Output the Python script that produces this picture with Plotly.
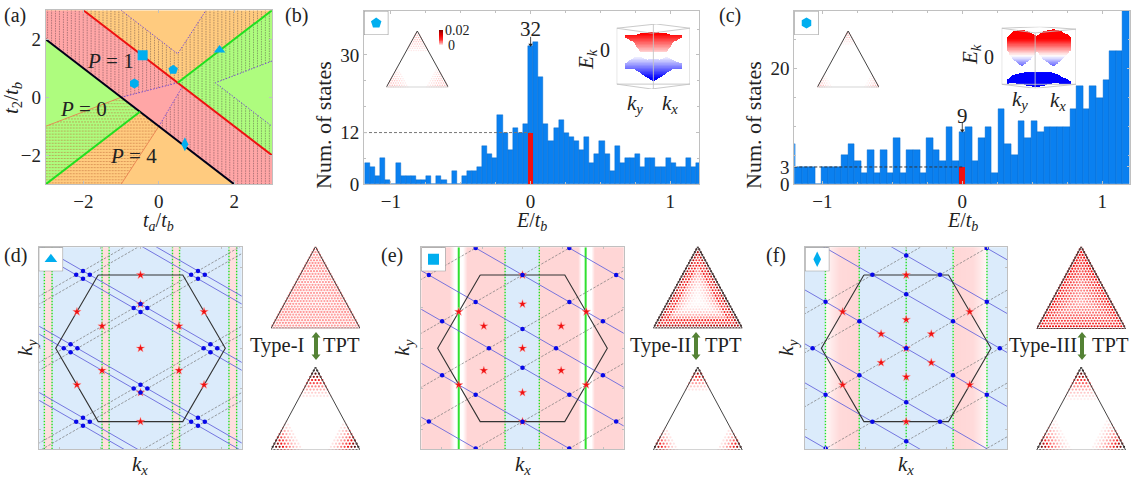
import numpy as np
import plotly.graph_objects as go

W, H = 1136, 480
SERIF = "Liberation Serif"

# ---------- data ----------
# panel (a)
REGION_PINK = ([-3, -2, 3, 3, 2, -3], [3, 3, -2, -3, -3, 2])
REGION_GREEN_RIGHT = ([0.5, 3, 3], [0.5, 3, -2])
REGION_GREEN_LEFT = ([-3, -0.5, -3], [2, -0.5, -3])
BLACK_LINE = ([-3, 2], [2, -3])
RED_LINE = ([-2, 3], [3, -2])
GREEN_LINE_A = ([-3, -0.5], [-3, -0.5])
GREEN_LINE_B = ([0.5, 3], [0.5, 3])
DOT_PURPLE = [([-1, 0.5, 1.25], [3, 1.5, 3]), ([3, 1.5, 3], [1.25, 0.5, -1]),
              ([-1, 0.5], [0, 0.5]), ([0, 0.63], [-1, 0.38])]
THIN_ORANGE = [([-3, -1], [-1, 0]), ([0, -1], [-1, -3])]
HATCH_V = [(-3, 2), (-3, 3), (-1, 3), (0.5, 1.5), (1.25, 3), (3, 3), (3, 1.25), (1.5, 0.5),
           (3, -1), (3, -3), (2, -3), (0, -1), (0.63, 0.38), (0.5, 0.5), (-1, 0)]
HATCH_H = [(-3, -1), (-1, 0), (0, -1), (-1, -3), (-3, -3)]
POINTS_A = {"square": (-0.43, 1.45), "pentagon": (0.38, 0.95), "hexagon": (-0.65, 0.48),
            "triangle-up": (1.61, 1.63), "diamond-tall": (0.69, -1.62)}

# panel (b)
COUNTS_B = [5, 4, 2, 6, 1, 0, 5, 2, 2, 2, 1, 1, 2, 0, 2, 1, 0, 3, 0, 2, 3, 3, 4, 9, 7, 6, 16, 12, 8, 13, 12, 14,
            32, 33, 25, 14, 10, 13, 15, 12, 11, 10, 8, 11, 5, 7, 10, 7, 3, 9, 5, 6, 6, 7, 4, 6, 6, 4, 4, 6, 5, 4, 4, 6, 4, 5]
INDEX_ZERO_B = 32
BIN_B = 0.0365
POINTER_B = [34.2, 32.4]
# panel (c)
COUNTS_C = [7, 3, 3, 3, 0, 3, 3, 3, 5, 7, 4, 2, 6, 2, 6, 2, 8, 2, 6, 6, 2, 8, 6, 4, 10, 4,
            9, 10, 4, 8, 10, 2, 13, 7, 5, 11, 8, 11, 9, 10, 10, 10, 10, 13, 17, 13, 17, 15, 18, 23, 23, 30]
INDEX_ZERO_C = 26
BIN_C = 0.0467
POINTER_C = [10.8, 9.3]

# band insets
KB = [-.77, -.55, -.36, -.18, 0, .18, .36, .55, .77]
B_UP_TOP = [.68, .66, .71, .74, .76, .74, .71, .66, .68]
B_UP_BOT = [.59, .46, .15, .15, .15, .15, .15, .46, .59]
B_LO_TOP = [-.21, -.03, 0, -.09, -.06, -.09, 0, -.11, -.21]
B_LO_BOT = [-.36, -.36, -.5, -.64, -.75, -.64, -.5, -.36, -.36]
KC = [-.87, -.69, -.46, -.24, -.06, .12, .39, .61, .86]
C_UP_TOP = [.65, .84, .91, .81, .70, .84, .92, .84, .68]
C_UP_BOT = [.24, -.08, -.30, -.08, .19, -.08, -.30, -.08, .24]
C_LO_TOP = [-.73, -.57, -.50, -.46, -.46, -.46, -.49, -.62, -.78]
C_LO_BOT = [-.86, -.84, -.88, -.93, -.97, -.92, -.84, -.86, -.86]

# Brillouin-zone panels
HEX_X = [-2.09, 2.09, 4.19, 2.09, -2.09, -4.19, -2.09]
HEX_Y = [3.63, 3.63, 0, -3.63, -3.63, 0, 3.63]
D_INTERCEPTS = [-5.47, -5.08, -2.19, -1.8, 1.8, 2.19, 5.08, 5.47]
E_INTERCEPTS = [-6.3, -3.63, -0.957, 0.957, 3.63, 6.3]
F_INTERCEPTS = [-7.26, -4.6, -2.67, 0, 2.67, 4.6, 7.26]
D_STAR_X = [0, 0, 0, -3.14, 3.14, -3.14, 3.14, -1.9, 1.9, -1.9, 1.9, 0, 0]
D_STAR_Y = [3.63, 0, -3.63, 1.81, 1.81, -1.81, -1.81, 1.1, 1.1, -1.1, -1.1, 2.19, -2.19]
E_STAR_X = [0, -3.15, 3.15, -3.15, 3.15, 0, 0, 0, 0, -1.91, 1.91, -1.91, 1.91]
E_STAR_Y = [3.63, 1.81, 1.81, -1.81, -1.81, -3.63, 2.19, 0, -2.19, 1.1, 1.1, -1.1, -1.1]
F_STAR_X = [0, 0, 0, 0, 0, -3.14, 3.14, -3.14, 3.14, -1.24, 1.24, -1.24, 1.24]
F_STAR_Y = [3.63, 1.42, 0, -1.42, -3.63, 1.81, 1.81, -1.81, -1.81, 0.71, 0.71, -0.71, -0.71]
D_GREEN = [-4.75, -4.37, -1.9, -1.55, 1.58, 1.93, 4.37, 4.75]
E_GREEN_DOT = [-0.86, 0.83]
E_GREEN_SOLID = [-3.15, 3.12]
F_GREEN = [-3.99, -2.32, 0, 2.32, 3.99]
# shading stops: 0 blue, .5 white, 1 pink
D_SHADE = ([-5, -4.76, -4.75, -4.37, -4.36, -1.91, -1.9, -1.55, -1.54, 1.57, 1.58, 1.93, 1.94, 4.36, 4.37, 4.75, 4.76, 5],
           [0, 0, .9, .9, 0, 0, .9, .9, 0, 0, .9, .9, 0, 0, .9, .9, 0, 0])
E_SHADE = ([-5, -3.6, -3.35, -2.94, -2.72, -0.87, -0.86, 0.83, 0.84, 2.76, 2.92, 3.42, 3.58, 5],
           [1, 1, .5, .5, 1, 1, 0, 0, 1, 1, .5, .5, 1, 1])
F_SHADE = ([-5, -4, -3.98, -3.3, -2.33, -2.32, 2.32, 2.33, 3.3, 3.98, 4, 5],
           [0, 0, .6, .95, 1, 0, 0, 1, .95, .6, 0, 0])

# triangle intensities: by depth from the edge (RING) or by lattice distance from a corner (CORNER)
RING_D = [.42, .36, .38, .36, .36, .34, .36, .34, .34, .32, .32]
RING_E = [.95, .8, .6, .65, .4, .3, .2, .12, .07, .04, .02]
RING_F = [.85, .7, .6, .58, .52, .5, .45, .42, .4, .36, .32]
CORNER_B = [.25, .25, .28, .28, .25, .22, .2, .16, .12, .08]
CORNER_C = [.4, .4, .3, .25, .15, .1, .05]
CORNER_D = [1, .98, .92, .85, .7, .55, .42, .3, .18, .1]
CORNER_E = [1, .95, .82, .65, .5, .35, .2, .1]
CORNER_F = [1, .98, .9, .8, .65, .5, .4, .3, .2, .12, .06]
ARROW_SHAPE = ([0, -.9, -.4, -.4, -.9, 0, .9, .4, .4, .9], [1, .6, .6, -.6, -.6, -1, -.6, -.6, .6, .6])

BG_BLUE, BG_PINK = "#DBEBFB", "#FFD6D6"
MARK = "#00AEEF"
INT_SCALE = [[0, "#ffffff"], [.35, "#ffa0a0"], [.7, "#f01010"], [.88, "#801010"], [1, "#181010"]]
BAND_SCALE = [[0, "#0000ff"], [.5, "#ffffff"], [1, "#ff0000"]]
SHADE_SCALE = [[0, BG_BLUE], [.5, "#ffffff"], [1, BG_PINK]]

fig = go.Figure()
axes = {}
n_ax = 0
AX_GRAY = "#c0c0c0"


def new_axes(x0, y0, x1, y1, xr, yr, xkw=None, ykw=None):
    global n_ax
    n_ax += 1
    s = "" if n_ax == 1 else str(n_ax)
    base = dict(visible=False, fixedrange=True)
    xa = dict(base, domain=[x0 / W, x1 / W], range=xr, anchor="y" + s)
    ya = dict(base, domain=[1 - y1 / H, 1 - y0 / H], range=yr, anchor="x" + s)
    if xkw:
        xa.update(xkw)
    if ykw:
        ya.update(ykw)
    axes["xaxis" + s] = xa
    axes["yaxis" + s] = ya
    return "x" + s, "y" + s


def boxed(tickvals=None, minor=None, labels=True, size=19):
    d = dict(visible=True, showline=True, linecolor=AX_GRAY, linewidth=1, mirror="ticks", showgrid=False, zeroline=False,
             ticks="inside", ticklen=3, tickcolor=AX_GRAY, tickwidth=1, showticklabels=labels,
             tickfont=dict(family=SERIF, size=size, color="#222"))
    if tickvals is not None:
        d.update(tickmode="array", tickvals=tickvals)
    if minor is not None:
        d["minor"] = dict(ticks="inside", ticklen=2, tickcolor=AX_GRAY, dtick=minor, showgrid=False)
    return d


def line(ax, x, y, color, width=1, dash="solid", **kw):
    fig.add_trace(go.Scatter(x=x, y=y, xaxis=ax[0], yaxis=ax[1], mode="lines", hoverinfo="skip",
                             line=dict(color=color, width=width, dash=dash), **kw))


def poly(ax, xy, color):
    fig.add_trace(go.Scatter(x=xy[0], y=xy[1], xaxis=ax[0], yaxis=ax[1], mode="lines", fill="toself",
                             fillcolor=color, line=dict(width=0), hoverinfo="skip"))


def marks(ax, x, y, symbol, size, color, **kw):
    fig.add_trace(go.Scatter(x=x, y=y, xaxis=ax[0], yaxis=ax[1], mode="markers", hoverinfo="skip",
                             marker=dict(symbol=symbol, size=size, color=color, **kw)))


annos = []


def text(px, py, s, size=20, angle=0, color="#222"):
    annos.append(dict(x=px / W, y=1 - py / H, xref="paper", yref="paper", text=s, showarrow=False, textangle=angle,
                      xanchor="center", yanchor="middle", font=dict(family=SERIF, size=size, color=color)))


def clip_polygon(polygon, positions, vertical=True):
    segs_a, segs_b = [], []
    pts = polygon + [polygon[0]]
    for p in positions:
        hits = []
        for (x0, y0), (x1, y1) in zip(pts[:-1], pts[1:]):
            a0, b0, a1, b1 = (x0, y0, x1, y1) if vertical else (y0, x0, y1, x1)
            if (a0 <= p < a1) or (a1 <= p < a0):
                hits.append(b0 + (p - a0) / (a1 - a0) * (b1 - b0))
        hits.sort()
        for lo, hi in zip(hits[::2], hits[1::2]):
            segs_a += [p, p, None]
            segs_b += [lo, hi, None]
    return (segs_a, segs_b) if vertical else (segs_b, segs_a)


# ---------- panel (a) ----------
A = new_axes(45.7, 10.3, 272, 184.3, [-3, 3], [-3, 3],
             boxed([-2, 0, 2]), boxed([-2, 0, 2]))
poly(A, ([-3, 3, 3, -3], [-3, -3, 3, 3]), "#FFCB7F")
poly(A, REGION_GREEN_RIGHT, "#AEFC7E")
poly(A, REGION_GREEN_LEFT, "#AEFC7E")
poly(A, REGION_PINK, "#FFA6A6")
hv = clip_polygon(HATCH_V, list(np.arange(-2.95, 3, 0.105)), True)
line(A, hv[0], hv[1], "rgba(70,50,60,.6)", 0.7, "1.5px,1px")
hh = clip_polygon(HATCH_H, list(np.arange(-2.95, 0, 0.105)), False)
line(A, hh[0], hh[1], "rgba(190,100,50,.7)", 0.7, "2px,1px")
for dx, dy in DOT_PURPLE:
    line(A, dx, dy, "#7A50D0", 1, "1.5px,1.5px")
for dx, dy in THIN_ORANGE:
    line(A, dx, dy, "#E88050", 0.9)
line(A, *BLACK_LINE, "#000018", 2)
line(A, *RED_LINE, "#EE1010", 2)
line(A, *GREEN_LINE_A, "#20E020", 2)
line(A, *GREEN_LINE_B, "#20E020", 2)
for sym, (px_, py_) in POINTS_A.items():
    marks(A, [px_], [py_], sym, 10, MARK)
text(110, 61, "<i>P</i> = 1", 21)
text(83, 109, "<i>P</i> = 0", 21)
text(133, 156, "<i>P</i> = 4", 21)
text(158, 221, "<i>t<sub>a</sub></i>/<i>t<sub>b</sub></i>", 20)
text(12, 98, "<i>t</i><sub>2</sub>/<i>t<sub>b</sub></i>", 21, -90)


# ---------- histograms ----------
def histogram(box, xr, yr, yticks, yminor, counts, i0, bin_w, redval, label, lx, ly, pointer, dash_col):
    ax = new_axes(box[0], box[1], box[2], box[3], xr, yr, boxed([-1, 0, 1], 0.25), boxed(yticks, yminor))
    xs = [(i - i0) * bin_w for i in range(len(counts))]
    fig.add_trace(go.Bar(x=xs, y=counts, width=bin_w, xaxis=ax[0], yaxis=ax[1], hoverinfo="skip",
                         marker=dict(color="#0A80F0", line=dict(color="#0868C8", width=0.4))))
    fig.add_trace(go.Bar(x=[0], y=[redval], width=bin_w, xaxis=ax[0], yaxis=ax[1], hoverinfo="skip",
                         marker=dict(color="#F01010", line=dict(width=0))))
    line(ax, [xr[0], 0], [redval, redval], dash_col, 1, "3px,2px")
    line(ax, [0, 0], pointer, "#222", 0.8)
    marks(ax, [0], [pointer[1]], "triangle-down", 4, "#222")
    text(lx, ly, label, 21)
    return ax


B = histogram((364, 11, 699.3, 184.3), [-1.193, 1.208], [0, 40.2], [0, 12, 30], 6, COUNTS_B, INDEX_ZERO_B, BIN_B, 12,
              "32", 530.7, 29, POINTER_B, "#777")
C = histogram((794.3, 11, 1130, 184.3), [-1.2, 1.198], [0, 30], [0, 3, 20], 5, COUNTS_C, INDEX_ZERO_C, BIN_C, 3,
              "9", 962.3, 116, POINTER_C, "#333")
text(323, 125, "Num. of states", 22, -90)
text(753, 125, "Num. of states", 22, -90)
text(531, 221, "<i>E</i>/<i>t<sub>b</sub></i>", 20)
text(962, 221, "<i>E</i>/<i>t<sub>b</sub></i>", 20)


# ---------- legend boxes ----------
def legend_box(x0, y0, symbol):
    ax = new_axes(x0, y0, x0 + 24.4, y0 + 24, [0, 1], [0, 1])
    poly(ax, ([0, 1, 1, 0], [0, 0, 1, 1]), "#ffffff")
    line(ax, [0, 1, 1, 0, 0], [0, 0, 1, 1, 0], "#999", 1.2)
    marks(ax, [0.5], [0.5], symbol, 11, MARK)


legend_box(364, 11, "pentagon")
legend_box(794.3, 11, "hexagon")


# ---------- band-structure insets ----------
def band_inset(box, kk, up_top, up_bot, k2, lo_top, lo_bot, zr, frame):
    ax = new_axes(box[0], box[1], box[2], box[3], [-1, 1], [-1, 1])
    for fx, fy in frame:
        line(ax, fx, fy, "#c4c4c4", 0.9)
    gx = np.linspace(-1, 1, 160)
    gy = np.linspace(-1, 1, 110)
    z = np.full((gy.size, gx.size), np.nan)
    for top_k, top, bot_k, bot in ((kk, up_top, kk, up_bot), (k2, lo_top, k2, lo_bot)):
        t = np.interp(gx, top_k, top, left=np.nan, right=np.nan)
        b = np.interp(gx, bot_k, bot, left=np.nan, right=np.nan)
        for j, g in enumerate(gy):
            m = (g <= t) & (g >= b)
            z[j, m] = g
    fig.add_trace(go.Heatmap(x=gx, y=gy, z=z, xaxis=ax[0], yaxis=ax[1], zmin=zr[0], zmax=zr[1], showscale=False,
                             colorscale=BAND_SCALE, hoverinfo="skip"))


FRAME_B = [([-1, 0.08, 1, 1, -1, -1], [.87, 1, .87, -.85, -.85, .87]), ([-1, -.05, 1], [.87, .72, .87]),
           ([-1, -.05, 1], [-.85, -1, -.85]), ([.0, .0], [1, -1])]
FRAME_C = [([-1, .03, 1, 1, -1, -1], [.95, 1, .92, -.87, -.87, .95]), ([-1, -.1, 1], [.95, .8, .92]),
           ([-1, -.1, 1], [-.87, -1, -.87]), ([-.1, -.1], [.8, -1])]
band_inset((616.7, 24, 690, 89), KB, B_UP_TOP, B_UP_BOT, KB, B_LO_TOP, B_LO_BOT, (-.65, .7), FRAME_B)
band_inset((1001.7, 26.7, 1076, 88.3), KC, C_UP_TOP, C_UP_BOT, KC, C_LO_TOP, C_LO_BOT, (-.5, .6), FRAME_C)
text(587, 60, "<i>E<sub>k</sub></i>", 21, -90)
text(605, 50, "0", 20)
text(635, 104, "<i>k<sub>y</sub></i>", 21)
text(670, 104, "<i>k<sub>x</sub></i>", 21)
text(971, 55, "<i>E<sub>k</sub></i>", 21, -90)
text(989, 57, "0", 20)
text(1020, 100, "<i>k<sub>y</sub></i>", 21)
text(1058, 101, "<i>k<sub>x</sub></i>", 21)

# colour key of panel (b)
K = new_axes(439, 30, 443.3, 45, [0, 1], [0, 0.02])
fig.add_trace(go.Heatmap(x=[0.5], y=list(np.linspace(0, 0.02, 30)), z=[[v] for v in np.linspace(0, 0.02, 30)],
                         xaxis=K[0], yaxis=K[1], showscale=False, hoverinfo="skip",
                         colorscale=[[0, "#ffffff"], [.35, "#ff3030"], [.65, "#ee0000"], [1, "#800000"]]))
text(457, 31, "0.02", 14)
text(451, 45.5, "0", 14)


# ---------- triangles ----------
def triangle(box, n, ring=None, corner=None, size=1.8):
    ax = new_axes(box[0], box[1], box[2], box[3], [-.5, .5], [0, 1])
    xs, ys, cs = [], [], []
    for r in range(n + 1):
        for j in range(r + 1):
            if ring is not None:
                d = min(j, r - j, n - r)
                v = ring[d] if d < len(ring) else ring[-1]
            else:
                d = min(r, n - r + j, n - j)
                v = corner[d] if d < len(corner) else 0
            if v > 0:
                xs.append((j - r / 2) / n)
                ys.append(1 - r / n)
                cs.append(v)
    fig.add_trace(go.Scatter(x=xs, y=ys, xaxis=ax[0], yaxis=ax[1], mode="markers", hoverinfo="skip",
                             marker=dict(symbol="circle", size=size, color=cs, cmin=0, cmax=1, colorscale=INT_SCALE,
                                         showscale=False, line=dict(width=0))))
    line(ax, [-.5, 0, .5], [0, 1, 0], "#444", 1)
    line(ax, [-.5, .5], [0, 0], "#aaa" if ring is None else "#333", 1.2 if ring is None else 1)


triangle((386.3, 31, 448.3, 87.3), 26, corner=CORNER_B, size=1.5)
triangle((817.3, 31, 879, 87.3), 26, corner=CORNER_C, size=1.5)
triangle((271, 246.7, 360, 328.3), 30, ring=RING_D, size=2.3)
triangle((271, 367.3, 360, 450), 26, corner=CORNER_D, size=2.2)
triangle((653.3, 246.7, 742.3, 328.3), 30, ring=RING_E, size=2.1)
triangle((653.3, 367.3, 742.3, 450), 26, corner=CORNER_E, size=2.2)
triangle((1036.7, 246.7, 1125.7, 329), 30, ring=RING_F, size=2.2)
triangle((1036.7, 367.3, 1125.7, 450), 26, corner=CORNER_F, size=2.2)


# ---------- Brillouin-zone panels ----------
def bz_panel(x0, shade, intercepts, sx, sy, greens_dot, greens_solid, drop=()):
    box_axes = boxed(list(np.arange(-4, 5, 2.0)), None, labels=False)
    box_axes["ticklen"] = 2
    ax = new_axes(x0, 247.3, x0 + 202.4, 449.3, [-5, 5], [-5, 5], dict(box_axes), dict(box_axes))
    gx = np.linspace(-5, 5, 405)
    z = np.interp(gx, shade[0], shade[1])
    fig.add_trace(go.Heatmap(x=gx, y=[-5, 5], z=[z, z], xaxis=ax[0], yaxis=ax[1], zmin=0, zmax=1, showscale=False,
                             colorscale=SHADE_SCALE, hoverinfo="skip"))
    for g in greens_dot:
        line(ax, [g, g], [-5, 5], "#20E020", 1.4, "1.5px,1.5px")
    for g in greens_solid:
        line(ax, [g, g], [-5, 5], "#30E030", 2)
    s3 = np.sqrt(3)
    for a in intercepts:
        line(ax, [-9, 9], [a - 9 / s3, a + 9 / s3], "#777", 0.7, "2.5px,1.5px")
    for b in intercepts:
        line(ax, [-9, 9], [b + 9 / s3, b - 9 / s3], "#6868DC", 0.9)
    line(ax, HEX_X, HEX_Y, "#333", 1.1)
    marks(ax, sx, sy, "star", 6.5, "#F01010", line=dict(color="#FFB0B0", width=0.4))
    dx, dy = [], []
    for a in intercepts:
        for b in intercepts:
            kx, ky = (b - a) * s3 / 2, (a + b) / 2
            if abs(kx) <= 5 and abs(ky) <= 5.02 and (round(a, 2), round(b, 2)) not in drop:
                dx.append(kx)
                dy.append(ky)
    marks(ax, dx, dy, "circle", 4.5, "#0808E8")
    return ax


bz_panel(39.3, D_SHADE, D_INTERCEPTS, D_STAR_X, D_STAR_Y, D_GREEN, [])
bz_panel(421.3, E_SHADE, E_INTERCEPTS, E_STAR_X, E_STAR_Y, E_GREEN_DOT, E_GREEN_SOLID)
bz_panel(805, F_SHADE, F_INTERCEPTS, F_STAR_X, F_STAR_Y, F_GREEN, [], drop={(-7.26, -2.67)})
legend_box(38.7, 247.3, "triangle-up")
legend_box(421.3, 247.3, "square")
legend_box(805, 247.3, "diamond-tall")

for px_ in (140, 523, 906):
    text(px_, 465, "<i>k<sub>x</sub></i>", 21)
for px_ in (26, 403, 787):
    text(px_, 348, "<i>k<sub>y</sub></i>", 22, -90)

for s, tx, lx, ax_ in (("Type-I", 277, 341, 316), ("Type-II", 660, 723, 696), ("Type-III", 1043, 1110, 1082)):
    text(tx, 345, s, 20.5)
    text(lx, 345, "TPT", 20.5)
    arrow_ax = new_axes(ax_ - 5, 332, ax_ + 5, 360, [-1, 1], [-1, 1])
    poly(arrow_ax, ARROW_SHAPE, "#548235")

for s, px_, py_ in (("(a)", 15, 15), ("(b)", 296, 15), ("(c)", 730, 15), ("(d)", 15, 255), ("(e)", 392, 255), ("(f)", 776, 255)):
    text(px_, py_, s, 20)

fig.update_layout(width=W, height=H, margin=dict(l=0, r=0, t=0, b=0, autoexpand=False), paper_bgcolor="white",
                  plot_bgcolor="rgba(0,0,0,0)", showlegend=False, barmode="overlay", bargap=0,
                  annotations=annos, **axes)
fig.write_html("out.html", config={"displayModeBar": False},
               post_script="document.body.style.margin='0';document.documentElement.style.overflow='hidden';")
